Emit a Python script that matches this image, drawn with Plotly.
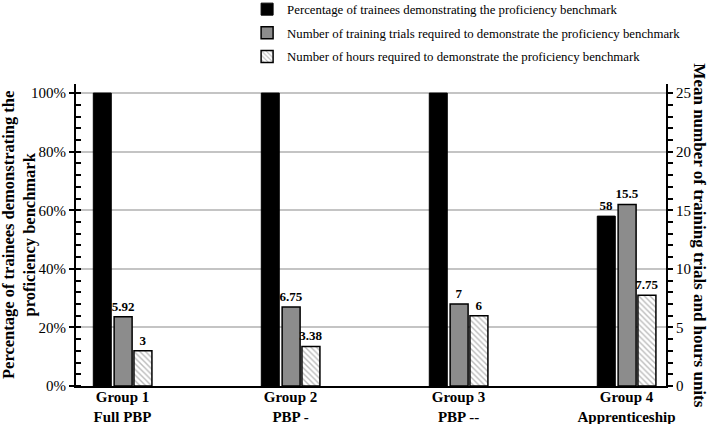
import plotly.graph_objects as go

groups = ["Group 1<br>Full PBP", "Group 2<br>PBP -", "Group 3<br>PBP --", "Group 4<br>Apprenticeship"]
pct_trainees = [100, 100, 100, 58]
trials = [5.92, 6.75, 7, 15.5]
hours = [3, 3.38, 6, 7.75]

serif = "Liberation Serif, Times New Roman, serif"
W = 0.107

pct_text = ["" if v >= 100 else f"<b>{v:g}</b>" for v in pct_trainees]

common = dict(textposition="outside", constraintext="none", cliponaxis=False,
              textfont=dict(family=serif, size=13, color="black"))

fig = go.Figure()
fig.add_trace(go.Bar(
    x=groups, y=pct_trainees, name="Percentage of trainees demonstrating the proficiency benchmark",
    marker=dict(color="black", line=dict(color="black", width=1)),
    width=W, offset=-0.174, text=pct_text, legendgroup="a", yaxis="y", **common))
fig.add_trace(go.Bar(
    x=groups, y=trials, name="Number of training trials required to demonstrate the proficiency benchmark",
    marker=dict(color="#8c8c8c", line=dict(color="black", width=1.5)),
    width=W, offset=-0.05, text=[f"<b>{v:g}</b>" for v in trials],
    legendgroup="b", yaxis="y2", **common))
fig.add_trace(go.Bar(
    x=groups, y=hours, name="Number of hours required to demonstrate the proficiency benchmark",
    marker=dict(color="white", line=dict(color="black", width=1.5),
                pattern=dict(shape="\\", fgcolor="#777777", bgcolor="white", size=4, solidity=0.35)),
    width=W, offset=0.068, text=[f"<b>{v:g}</b>" for v in hours],
    legendgroup="c", yaxis="y2", **common))

fig.update_layout(
    width=709, height=424,
    margin=dict(l=76, r=43, t=84, b=38, autoexpand=False),
    paper_bgcolor="white", plot_bgcolor="white",
    barmode="overlay",
    font=dict(family=serif, color="black"),
    showlegend=True,
    legend=dict(x=0.29, xanchor="left", y=1.297, yanchor="top",
                font=dict(family=serif, size=12.8, color="black"),
                tracegroupgap=4, itemwidth=30, bgcolor="rgba(0,0,0,0)"),
    xaxis=dict(type="category", range=[-0.277, 3.235], showline=True, linecolor="black", linewidth=2,
               ticks="", ticklabelstandoff=-4,
               tickfont=dict(family=serif, size=15, color="black", weight="bold"),
               showgrid=False, zeroline=False),
    yaxis=dict(range=[0, 103.1], tickvals=[0, 20, 40, 60, 80, 100],
               ticktext=["0%", "20%", "40%", "60%", "80%", "100%"],
               showline=True, linecolor="black", linewidth=2,
               ticks="outside", ticklen=5, tickwidth=2, tickcolor="black",
               tickfont=dict(family=serif, size=15, color="black"),
               showgrid=True, gridcolor="#c4c4c4", gridwidth=2, zeroline=False,
               minor=dict(dtick=4, ticks="inside", ticklen=5, tickwidth=1.5, tickcolor="black", showgrid=False)),
    yaxis2=dict(range=[0, 25.775], overlaying="y", side="right", tickvals=[0, 5, 10, 15, 20, 25],
                showline=True, linecolor="black", linewidth=2,
                ticks="outside", ticklen=5, tickwidth=2, tickcolor="black",
                tickfont=dict(family=serif, size=15, color="black"),
                showgrid=False, zeroline=False,
                minor=dict(dtick=1, ticks="outside", ticklen=5, tickwidth=1.5, tickcolor="black", showgrid=False)),
    annotations=[
        dict(text="<b>Percentage of trainees demonstrating the<br>proficiency benchmark</b>",
             x=-0.0966, y=0.5, xref="paper", yref="paper", textangle=-90, showarrow=False,
             font=dict(family=serif, size=16.5, color="black"), xanchor="center", yanchor="middle"),
        dict(text="<b>Mean number of training trials and hours units</b>",
             x=1.057, y=0.5, xref="paper", yref="paper", textangle=90, showarrow=False,
             font=dict(family=serif, size=17, color="black"), xanchor="center", yanchor="middle"),
    ],
)

fig.write_html("out.html")
